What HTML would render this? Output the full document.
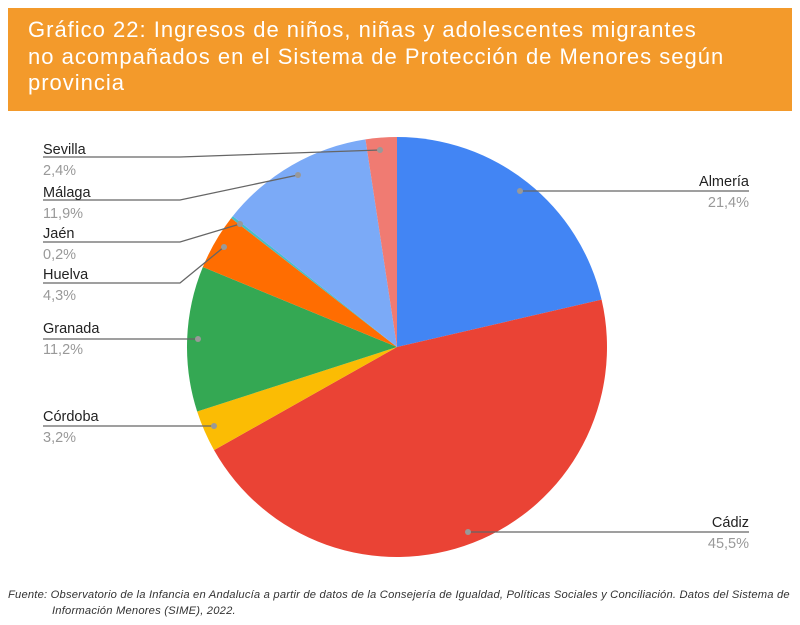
<!DOCTYPE html>
<html><head><meta charset="utf-8"><style>
body{margin:0;width:800px;height:625px;background:#fff;overflow:hidden;font-family:"Liberation Sans",sans-serif}
.hdr{position:absolute;left:8px;top:8px;width:784px;height:103px;background:#F39A2B}
.hdr div{position:absolute;left:20px;top:9px;color:#fff;font-size:22px;letter-spacing:1px;line-height:26.5px}
.foot{position:absolute;left:8px;top:587px;font-size:11.2px;letter-spacing:0.2px;font-style:italic;color:#333;line-height:16px}
</style></head><body>
<div class="hdr"><div>Gráfico 22: Ingresos de niños, niñas y adolescentes migrantes<br>no acompañados en el Sistema de Protección de Menores según<br>provincia</div></div>
<svg id="s" width="800" height="625" style="position:absolute;left:0;top:0" font-family="Liberation Sans, sans-serif" font-size="14.5"></svg>
<div class="foot">Fuente: Observatorio de la Infancia en Andalucía a partir de datos de la Consejería de Igualdad, Políticas Sociales y Conciliación. Datos del Sistema de<br><span style="padding-left:44px">Información Menores (SIME), 2022.</span></div>
<script>
var s=document.getElementById('s'),cx=397,cy=347,r=210,h='';
var d=[[21.4,'#4285F4'],[45.5,'#EA4335'],[3.2,'#FBBC04'],[11.2,'#34A853'],[4.3,'#FF6D01'],[0.2,'#46BDC6'],[11.9,'#7BAAF7'],[2.4,'#F07B72']];
var a=0;d.forEach(function(v){var a1=a+v[0]/100.1*2*Math.PI;
var x0=cx+r*Math.sin(a),y0=cy-r*Math.cos(a),x1=cx+r*Math.sin(a1),y1=cy-r*Math.cos(a1);
h+='<path d="M'+cx+' '+cy+'L'+x0+' '+y0+'A'+r+' '+r+' 0 '+(a1-a>Math.PI?1:0)+' 1 '+x1+' '+y1+'Z" fill="'+v[1]+'"/>';a=a1;});
var L=[['Sevilla','2,4%',154,157,180,380,150],['Málaga','11,9%',197,200,180,298,175],['Jaén','0,2%',238,242,180,240,224],['Huelva','4,3%',279,283,180,224,247],['Granada','11,2%',333,339,185,198,339],['Córdoba','3,2%',421,426,185,214,426]];
L.forEach(function(l){h+='<polyline points="43,'+l[3]+' '+l[4]+','+l[3]+' '+l[5]+','+l[6]+'" fill="none" stroke="#666" stroke-width="1.3"/><circle cx="'+l[5]+'" cy="'+l[6]+'" r="3" fill="#999"/><text x="43" y="'+l[2]+'" fill="#222">'+l[0]+'</text><text x="43" y="'+(l[2]+21)+'" fill="#999">'+l[1]+'</text>';});
var R=[['Almería','21,4%',186,191,520],['Cádiz','45,5%',527,532,468]];
R.forEach(function(l){h+='<polyline points="'+l[4]+','+l[3]+' 749,'+l[3]+'" fill="none" stroke="#666" stroke-width="1.3"/><circle cx="'+l[4]+'" cy="'+l[3]+'" r="3" fill="#999"/><text x="749" y="'+l[2]+'" text-anchor="end" fill="#222">'+l[0]+'</text><text x="749" y="'+(l[2]+21)+'" text-anchor="end" fill="#999">'+l[1]+'</text>';});
s.innerHTML=h;
</script>
</body></html>
